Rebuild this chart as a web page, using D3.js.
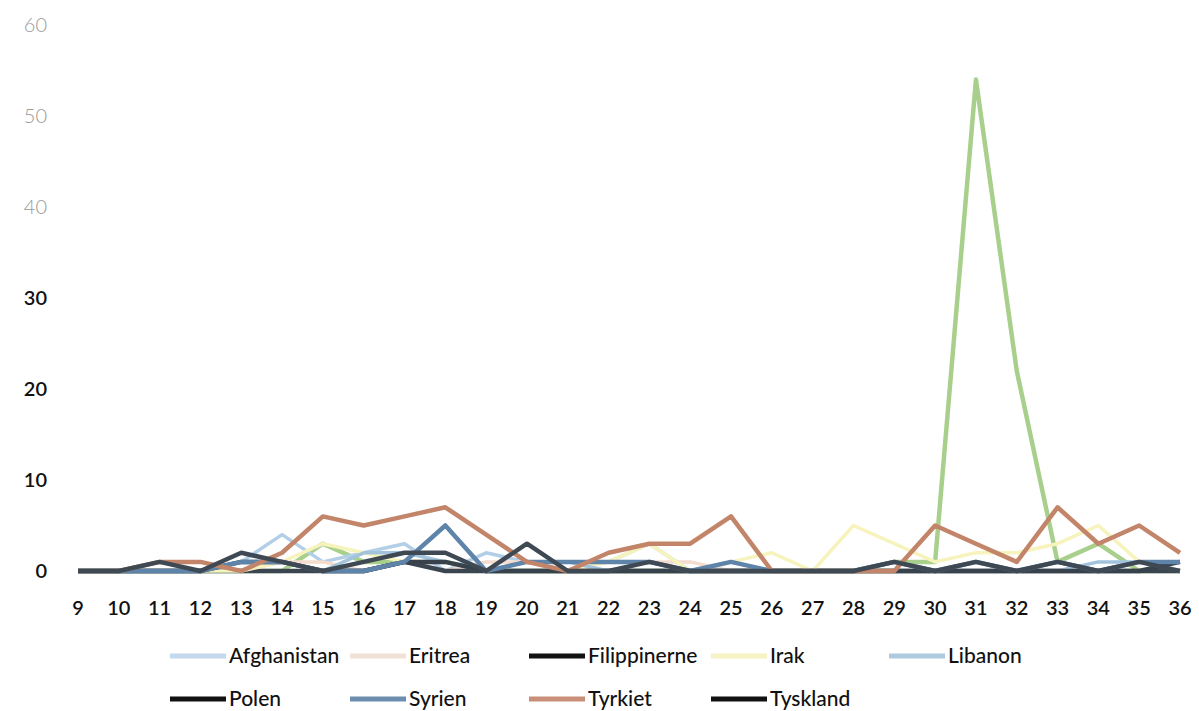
<!DOCTYPE html>
<html>
<head>
<meta charset="utf-8">
<script src="https://cdn.jsdelivr.net/npm/d3@7"></script>
<style>
  body { margin: 0; background: #fff; }
  text { font-family: Lato, "Open Sans", sans-serif; }
</style>
</head>
<body>
<script>
// uger 9..36
var weeks = [9,10,11,12,13,14,15,16,17,18,19,20,21,22,23,24,25,26,27,28,29,30,31,32,33,34,35,36];
var yTicks = [0,10,20,30,40,50,60];

var afghanistan  = [0,0,0,0,1,4,1,2,3,0,2,1,1,1,3,0,0,0,0,0,0,0,0,0,1,0,0,0];
var eritrea      = [0,0,1,1,0,1,1,0,1,0,1,1,0,1,1,1,0,0,0,0,0,0,1,0,0,0,0,0];
var filippinerne = [0,0,0,0,0,0,0,0,1,0,0,0,0,0,0,0,0,0,0,0,0,0,0,0,0,0,0,0];
var irak         = [0,0,0,0,0,1,3,2,1,1,0,0,0,1,3,0,1,2,0,5,3,1,2,2,3,5,1,0];
var libanon      = [0,0,0,0,1,1,0,2,2,1,0,1,1,0,1,0,1,0,0,0,0,0,1,0,0,1,1,1];
var polen        = [0,0,0,0,1,1,0,0,1,1,0,0,0,0,0,0,0,0,0,0,0,0,0,0,0,0,0,1];
var syrien       = [0,0,0,0,1,1,0,0,1,5,0,1,1,1,1,0,1,0,0,0,1,0,1,0,1,0,1,1];
var tyrkiet      = [0,0,1,1,0,2,6,5,6,7,4,1,0,2,3,3,6,0,0,0,0,5,3,1,7,3,5,2];
var tyskland     = [0,0,1,0,2,1,0,1,2,2,0,3,0,0,1,0,0,0,0,0,1,0,1,0,1,0,1,0];
// green series, not shown in the legend
var groen        = [0,0,0,0,0,0,3,1,1,1,0,0,0,0,0,0,0,0,0,0,1,1,54,22,1,3,0,0];

var series = [
  {name: "Afghanistan",  values: afghanistan,  color: "#b3cfe8", key: "#c3d8ec", w: 3.5},
  {name: "Eritrea",      values: eritrea,      color: "#f4dccf", key: "#f1e0d6", w: 3.5},
  {name: "Filippinerne", values: filippinerne, color: "#3b4550", key: "#111",    w: 4.5},
  {name: "Irak",         values: irak,         color: "#f7f3bd", key: "#f5f2c4", w: 3.5},
  {name: "Libanon",      values: libanon,      color: "#a3c3dd", key: "#aecadf", w: 3.5},
  {name: "Polen",        values: polen,        color: "#38424c", key: "#111",    w: 4.5},
  {name: "Syrien",       values: syrien,       color: "#5e84aa", key: "#6c8db0", w: 4.5},
  {name: "Tyrkiet",      values: tyrkiet,      color: "#c3856a", key: "#c98f78", w: 4.5},
  {name: "Tyskland",     values: tyskland,     color: "#3f4954", key: "#111",    w: 4.5},
  {name: "",             values: groen,        color: "#a8d08c", key: null,      w: 4.5}
];

var width = 1199, height = 711;

var svg = d3.select("body").append("svg")
    .attr("width", width)
    .attr("height", height);

var x = d3.scaleLinear().domain([9, 36]).range([78, 1180]);
var y = d3.scaleLinear().domain([0, 60]).range([571, 25]);

// y axis labels
svg.append("g").selectAll("text")
    .data(yTicks)
  .enter().append("text")
    .attr("x", 47)
    .attr("y", function(d) { return y(d); })
    .attr("dy", "0.35em")
    .attr("text-anchor", "end")
    .style("font-size", "20px")
    .style("fill", function(d) { return d >= 40 ? "#9a9a9a" : "#111"; })
    .style("font-weight", function(d) { return d >= 40 ? "300" : "600"; })
    .text(function(d) { return d; });

// x axis labels
svg.append("g").selectAll("text")
    .data(weeks)
  .enter().append("text")
    .attr("x", function(d) { return x(d); })
    .attr("y", 608)
    .attr("dy", "0.35em")
    .attr("text-anchor", "middle")
    .style("font-size", "20px")
    .style("font-weight", "600")
    .style("fill", "#111")
    .text(function(d) { return d; });

var line = d3.line()
    .x(function(d, i) { return x(weeks[i]); })
    .y(function(d) { return y(d); });

// draw green first, then the rest in legend order
var drawOrder = [series[9]].concat(series.slice(0, 9));

svg.append("g").selectAll("path")
    .data(drawOrder)
  .enter().append("path")
    .attr("d", function(d) { return line(d.values); })
    .attr("fill", "none")
    .attr("stroke", function(d) { return d.color; })
    .attr("stroke-width", function(d) { return d.w; })
    .attr("stroke-linejoin", "round");

// legend
var legendCols = [170, 350, 529, 711, 889];
var legendRows = [656, 699];
var legendItems = series.filter(function(d) { return d.key; });

var lg = svg.append("g").selectAll("g")
    .data(legendItems)
  .enter().append("g")
    .attr("transform", function(d, i) {
        return "translate(" + legendCols[i % 5] + "," + legendRows[Math.floor(i / 5)] + ")";
    });

lg.append("line")
    .attr("x1", 0).attr("x2", 56)
    .attr("stroke", function(d) { return d.key; })
    .attr("stroke-width", 5);

lg.append("text")
    .attr("x", 59)
    .attr("dy", "0.35em")
    .style("font-size", "21px")
    .style("font-weight", "500")
    .style("fill", "#111")
    .text(function(d) { return d.name; });
</script>
</body>
</html>
